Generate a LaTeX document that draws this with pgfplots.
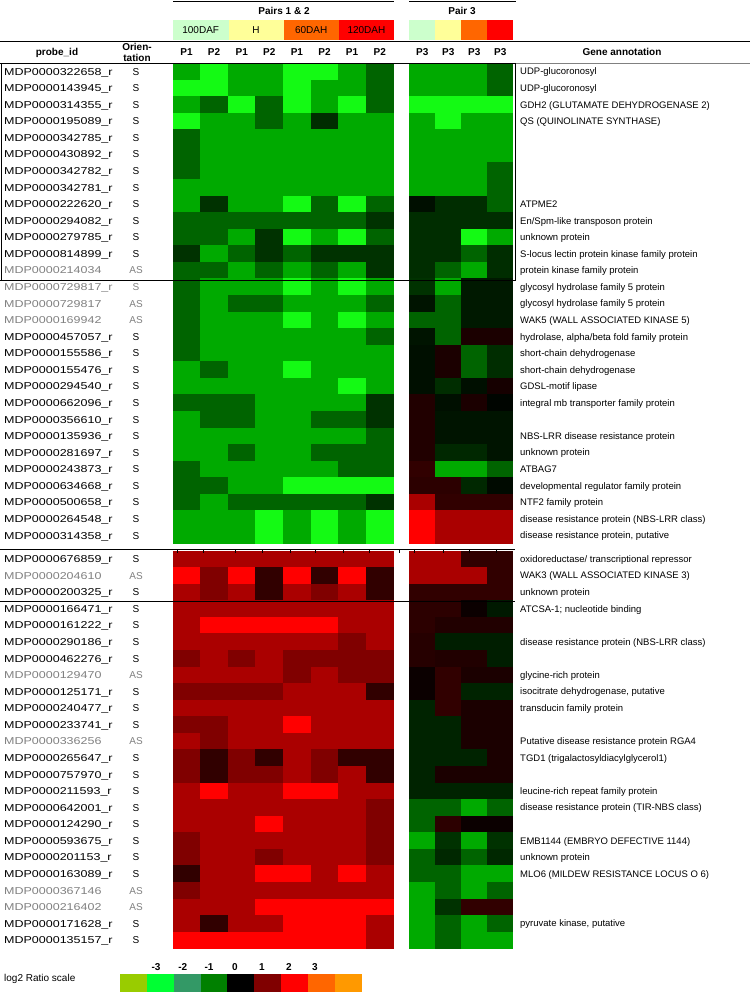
\documentclass[border=0pt]{standalone}
\usepackage{pgfplots}
\pgfplotsset{compat=1.18}
\usepackage{pgfplotstable}
\usepackage{fontspec}
\setmainfont{Liberation Sans}
\definecolor{lgr}{RGB}{204,255,204}
\definecolor{lye}{RGB}{255,255,153}
\definecolor{ora}{RGB}{255,102,0}
\definecolor{red1}{RGB}{255,0,0}
\definecolor{gtxt}{RGB}{128,128,128}
\pgfdeclareplotmark{cellL}{\pgfpathrectangle{\pgfqpoint{-13.95pt}{-8.45pt}}{\pgfqpoint{27.9pt}{16.9pt}}\pgfusepathqfill}
\pgfdeclareplotmark{cellR}{\pgfpathrectangle{\pgfqpoint{-13.15pt}{-8.45pt}}{\pgfqpoint{26.3pt}{16.9pt}}\pgfusepathqfill}
\pgfplotstableread{
row a1 a2 a3 a4 a5 a6 a7 a8 b1 b2 b3 b4
1 -2 -3 -2 -2 -3 -3 -2 -1 -2 -2 -2 -1
2 -3 -3 -2 -2 -3 -2 -2 -1 -2 -2 -2 -1
3 -2 -1 -3 -1 -3 -2 -3 -1 -3 -3 -3 -3
4 -3 -2 -2 -1 -2 -0.45 -2 -2 -2 -3 -2 -2
5 -1 -2 -2 -2 -2 -2 -2 -2 -2 -2 -2 -2
6 -1 -2 -2 -2 -2 -2 -2 -2 -2 -2 -2 -2
7 -1 -2 -2 -2 -2 -2 -2 -2 -2 -2 -2 -1
8 -2 -2 -2 -2 -2 -2 -2 -2 -2 -2 -2 -1
9 -2 -0.5 -2 -2 -3 -1 -3 -1 -0.15 -0.45 -0.45 -1
10 -1 -1 -1 -1 -1 -1 -1 -0.5 -0.45 -0.45 -0.45 -0.45
11 -1 -1 -2 -0.5 -3 -2 -3 -1 -0.45 -0.45 -3 -2
12 -0.5 -2 -1 -0.5 -1 -0.5 -0.5 -0.5 -0.45 -0.45 -1 -0.45
13 -1 -1 -2 -1 -2 -1 -2 -0.5 -0.45 -1 -2 -0.45
14 -1 -2 -2 -2 -3 -2 -3 -2 -0.5 -2 -0.25 -0.25
15 -1 -2 -1 -1 -2 -2 -2 -1 -0.2 -1 -0.25 -0.25
16 -1 -2 -2 -2 -3 -2 -3 -2 -1 -1 -0.25 -0.25
17 -1 -2 -2 -2 -2 -2 -2 -1 -0.2 -1 0.25 0.25
18 -1 -2 -2 -2 -2 -2 -2 -2 -0.15 0.25 -1 -0.45
19 -2 -1 -2 -2 -3 -2 -2 -2 -0.15 0.25 -1 -0.45
20 -2 -2 -2 -2 -2 -2 -3 -2 -0.15 -0.45 -0.15 0.2
21 -1 -1 -1 -2 -2 -2 -2 -0.5 0.3 -0.15 0.25 -0.05
22 -2 -1 -1 -2 -2 -1 -1 -0.5 0.3 -0.2 -0.2 -0.2
23 -2 -2 -2 -2 -2 -2 -2 -1 0.3 -0.2 -0.2 -0.2
24 -2 -2 -1 -2 -2 -1 -1 -1 0.3 -0.4 -0.4 -0.2
25 -1 -2 -2 -2 -2 -2 -1 -1 0.45 -2 -2 -1
26 -1 -1 -2 -2 -3 -3 -3 -3 0.4 0.4 -0.4 -0.1
27 -1 -2 -1 -1 -1 -1 -1 -0.5 2 0.45 0.45 0.45
28 -2 -2 -2 -3 -2 -3 -2 -3 3 2 2 2
29 -2 -2 -2 -3 -2 -3 -2 -3 3 2 2 2
30 2 2 2 2 2 2 2 2 2 2 0.45 0.45
31 3 1.3 3 0.45 3 0.45 3 0.45 2 2 2 0.45
32 2 1.3 2 0.45 2 1.3 2 0.45 0.45 0.45 0.45 0.45
33 2 2 2 2 2 2 2 2 0.4 0.4 0.1 -0.25
34 2 3 3 3 3 3 2 2 0.4 0.3 0.3 0.3
35 2 2 2 2 2 2 1.3 2 0.35 -0.3 -0.3 -0.3
36 1.3 2 1.3 2 1.3 1.3 1.3 1.3 0.35 0.3 0.3 -0.3
37 2 2 2 2 1.3 2 1.3 1.3 0.1 0.45 0.25 0.25
38 1.3 1.3 1.3 1.3 2 2 2 0.45 0.1 0.45 -0.35 -0.35
39 2 2 2 2 2 2 2 2 -0.35 0.45 0.25 0.25
40 1.3 1.3 2 2 3 2 2 2 -0.35 -0.35 0.25 0.25
41 2 1.3 2 2 2 2 2 2 -0.35 -0.35 0.25 0.25
42 1.3 0.45 1.3 0.45 2 1.3 0.45 0.45 -0.35 -0.35 -0.35 0.25
43 1.3 0.45 1.3 1.3 2 1.3 2 0.45 -0.35 0.25 0.25 0.25
44 2 3 2 2 3 3 2 2 -0.35 -0.35 -0.35 -0.35
45 2 2 2 2 2 2 2 1.3 -1 -1 -2 -1
46 2 2 2 3 2 2 2 1.3 -1 0.4 0.1 0.1
47 1.3 2 2 2 2 2 2 1.3 -2 -0.5 -2 -0.5
48 1.3 2 2 1.3 2 2 2 1.3 -1 -0.4 -1 -0.4
49 0.45 2 2 3 3 2 3 2 -1 -1 -2 -2
50 1.3 2 2 2 2 2 2 2 -2 -1 -2 -1
51 2 2 2 3 3 3 3 3 -2 -0.5 0.45 0.45
52 2 0.45 2 2 3 3 3 2 -2 -1 -2 -1
53 3 3 3 3 3 3 3 2 -2 -1 -2 -2
}\heat
\pgfplotsset{
  hm/.style={hide axis, y dir=reverse, scale only axis, anchor=north west,
    y=16.57pt, ymin=0.5, ymax=53.9225, clip=false,
    colormap={gbr}{rgb255=(20,250,20) rgb255=(0,170,0) rgb255=(0,100,0) rgb255=(0,0,0) rgb255=(110,0,0) rgb255=(170,0,0) rgb255=(255,0,0)},
    point meta min=-3, point meta max=3},
  cellplot/.style={scatter, only marks, point meta=explicit,
    scatter/use mapped color={draw=mapped color, fill=mapped color}}
}
\newcommand\R[5]{%
  \pgfmathsetmacro\yy{63.2+(#1-0.5)*16.57+(#1>29)*7}%
  \node[lbl,text=#5] at (4,\yy) {\scalebox{1.25}[1]{#2}};
  \node[lblc,text=#5] at (136,\yy) {#3};
  \node[lbla] at (520,\yy) {#4};
}
\begin{document}
\begin{tikzpicture}[x=1pt,y=-1pt,
  lbl/.style={anchor=west,inner sep=0pt,font=\fontsize{10}{12}\selectfont,text height=7.2pt,text depth=0pt},
  lbla/.style={anchor=west,inner sep=0pt,font=\fontsize{9.5}{12}\selectfont,text height=6.8pt,text depth=0pt},
  lblc/.style={inner sep=0pt,font=\fontsize{10}{12}\selectfont,text height=7.2pt,text depth=0pt},
  hd/.style={inner sep=0pt,font=\bfseries\fontsize{10}{12}\selectfont,text height=7.2pt,text depth=0pt}]
\path[use as bounding box] (0,0) rectangle (750,992);
% left heatmap
\begin{axis}[hm, at={(172.7pt,-63.2pt)}, x=27.6pt, xmin=0.5, xmax=8.5]
\pgfplotsinvokeforeach{1,...,8}{
  \addplot[cellplot, mark=cellL] table[x expr=#1, y expr={\thisrow{row}+(\thisrow{row}>29)*0.4225}, meta=a#1] {\heat};
}
\end{axis}
% right heatmap
\begin{axis}[hm, at={(409.3pt,-63.2pt)}, x=26pt, xmin=0.5, xmax=4.5]
\pgfplotsinvokeforeach{1,...,4}{
  \addplot[cellplot, mark=cellR] table[x expr=#1, y expr={\thisrow{row}+(\thisrow{row}>29)*0.4225}, meta=b#1] {\heat};
}
\end{axis}
% header
\draw[line width=0.9pt] (173,1) -- (394,1);
\draw[line width=0.9pt] (409,1) -- (516,1);
\node[hd] at (284,11) {Pairs 1 \& 2};
\node[hd] at (462,11) {Pair 3};
\fill[lgr] (173,20) rectangle (228.5,40);
\fill[lye] (228.5,20) rectangle (283.6,40);
\fill[ora] (283.6,20) rectangle (338.8,40);
\fill[red1] (338.8,20) rectangle (394,40);
\fill[lgr] (409.3,20) rectangle (435.3,40);
\fill[lye] (435.3,20) rectangle (461.3,40);
\fill[ora] (461.3,20) rectangle (487.3,40);
\fill[red1] (487.3,20) rectangle (513.3,40);
\node[lblc] at (200.7,30) {100DAF};
\node[lblc] at (256,30) {H};
\node[lblc] at (311.2,30) {60DAH};
\node[lblc] at (366.4,30) {120DAH};
\draw[line width=0.9pt] (0,41) -- (750,41);
\node[hd] at (57,52) {probe\_id};
\node[hd] at (137,46.5) {Orien-};
\node[hd] at (137,57.5) {tation};
\foreach \i/\t in {1/P1,2/P2,3/P1,4/P2,5/P1,6/P2,7/P1,8/P2}
  \node[hd] at ({172.7+(\i-0.5)*27.6},52) {\t};
\foreach \i in {1,...,4}
  \node[hd] at ({409.3+(\i-0.5)*26},52) {P3};
\node[hd] at (622,52) {Gene annotation};
% table lines
\draw[line width=0.9pt] (0,63.2) -- (515,63.2);
\draw[line width=0.9pt,gray] (515,63.2) -- (750,63.2);
\draw[line width=0.9pt] (1,63.2) -- (1,280.6) (515,63.2) -- (515,280.6);
\draw[line width=0.9pt] (0,280.1) -- (515,280.1);
\draw[line width=0.9pt] (0,549.5) -- (515,549.5);
\foreach \x in {177,203,235,262,290,315,343,369,399,414,443,469,496}
  \draw[line width=0.5pt] (\x,549.5) -- (\x,552.5);
\draw[line width=0.9pt] (0,601.5) -- (515,601.5);
% rows
\R{1}{MDP0000322658\_r}{S}{UDP-glucoronosyl}{black}
\R{2}{MDP0000143945\_r}{S}{UDP-glucoronosyl}{black}
\R{3}{MDP0000314355\_r}{S}{GDH2 (GLUTAMATE DEHYDROGENASE 2)}{black}
\R{4}{MDP0000195089\_r}{S}{QS (QUINOLINATE SYNTHASE)}{black}
\R{5}{MDP0000342785\_r}{S}{}{black}
\R{6}{MDP0000430892\_r}{S}{}{black}
\R{7}{MDP0000342782\_r}{S}{}{black}
\R{8}{MDP0000342781\_r}{S}{}{black}
\R{9}{MDP0000222620\_r}{S}{ATPME2}{black}
\R{10}{MDP0000294082\_r}{S}{En/Spm-like transposon protein}{black}
\R{11}{MDP0000279785\_r}{S}{unknown protein}{black}
\R{12}{MDP0000814899\_r}{S}{S-locus lectin protein kinase family protein}{black}
\R{13}{MDP0000214034}{AS}{protein kinase family protein}{gtxt}
\R{14}{MDP0000729817\_r}{S}{glycosyl hydrolase family 5 protein}{gtxt}
\R{15}{MDP0000729817}{AS}{glycosyl hydrolase family 5 protein}{gtxt}
\R{16}{MDP0000169942}{AS}{WAK5 (WALL ASSOCIATED KINASE 5)}{gtxt}
\R{17}{MDP0000457057\_r}{S}{hydrolase, alpha/beta fold family protein}{black}
\R{18}{MDP0000155586\_r}{S}{short-chain dehydrogenase}{black}
\R{19}{MDP0000155476\_r}{S}{short-chain dehydrogenase}{black}
\R{20}{MDP0000294540\_r}{S}{GDSL-motif lipase}{black}
\R{21}{MDP0000662096\_r}{S}{integral mb transporter family protein}{black}
\R{22}{MDP0000356610\_r}{S}{}{black}
\R{23}{MDP0000135936\_r}{S}{NBS-LRR disease resistance protein}{black}
\R{24}{MDP0000281697\_r}{S}{unknown protein}{black}
\R{25}{MDP0000243873\_r}{S}{ATBAG7}{black}
\R{26}{MDP0000634668\_r}{S}{developmental regulator family protein}{black}
\R{27}{MDP0000500658\_r}{S}{NTF2 family protein}{black}
\R{28}{MDP0000264548\_r}{S}{disease resistance protein (NBS-LRR class)}{black}
\R{29}{MDP0000314358\_r}{S}{disease resistance protein, putative}{black}
\R{30}{MDP0000676859\_r}{S}{oxidoreductase/ transcriptional repressor}{black}
\R{31}{MDP0000204610}{AS}{WAK3 (WALL ASSOCIATED KINASE 3)}{gtxt}
\R{32}{MDP0000200325\_r}{S}{unknown protein}{black}
\R{33}{MDP0000166471\_r}{S}{ATCSA-1; nucleotide binding}{black}
\R{34}{MDP0000161222\_r}{S}{}{black}
\R{35}{MDP0000290186\_r}{S}{disease resistance protein (NBS-LRR class)}{black}
\R{36}{MDP0000462276\_r}{S}{}{black}
\R{37}{MDP0000129470}{AS}{glycine-rich protein}{gtxt}
\R{38}{MDP0000125171\_r}{S}{isocitrate dehydrogenase, putative}{black}
\R{39}{MDP0000240477\_r}{S}{transducin family protein}{black}
\R{40}{MDP0000233741\_r}{S}{}{black}
\R{41}{MDP0000336256}{AS}{Putative disease resistance protein RGA4}{gtxt}
\R{42}{MDP0000265647\_r}{S}{TGD1 (trigalactosyldiacylglycerol1)}{black}
\R{43}{MDP0000757970\_r}{S}{}{black}
\R{44}{MDP0000211593\_r}{S}{leucine-rich repeat family protein}{black}
\R{45}{MDP0000642001\_r}{S}{disease resistance protein (TIR-NBS class)}{black}
\R{46}{MDP0000124290\_r}{S}{}{black}
\R{47}{MDP0000593675\_r}{S}{EMB1144 (EMBRYO DEFECTIVE 1144)}{black}
\R{48}{MDP0000201153\_r}{S}{unknown protein}{black}
\R{49}{MDP0000163089\_r}{S}{MLO6 (MILDEW RESISTANCE LOCUS O 6)}{black}
\R{50}{MDP0000367146}{AS}{}{gtxt}
\R{51}{MDP0000216402}{AS}{}{gtxt}
\R{52}{MDP0000171628\_r}{S}{pyruvate kinase, putative}{black}
\R{53}{MDP0000135157\_r}{S}{}{black}
% legend
\node[lbl] at (4,978) {log2 Ratio scale};
\foreach \c [count=\k from 0] in {{153,204,0},{0,255,51},{51,153,102},{0,128,0},{0,0,0},{128,0,0},{255,0,0},{255,102,0},{255,153,0}} {
  \definecolor{lc}{RGB}{\c}
  \fill[lc] ({120+\k*26.85},974) rectangle ({120+(\k+1)*26.85},992);
}
\foreach \x/\t in {156/-3,182.7/-2,209/-1,235/0,262/1,289/2,315/3}
  \node[hd] at (\x,967) {\t};
\end{tikzpicture}
\end{document}
